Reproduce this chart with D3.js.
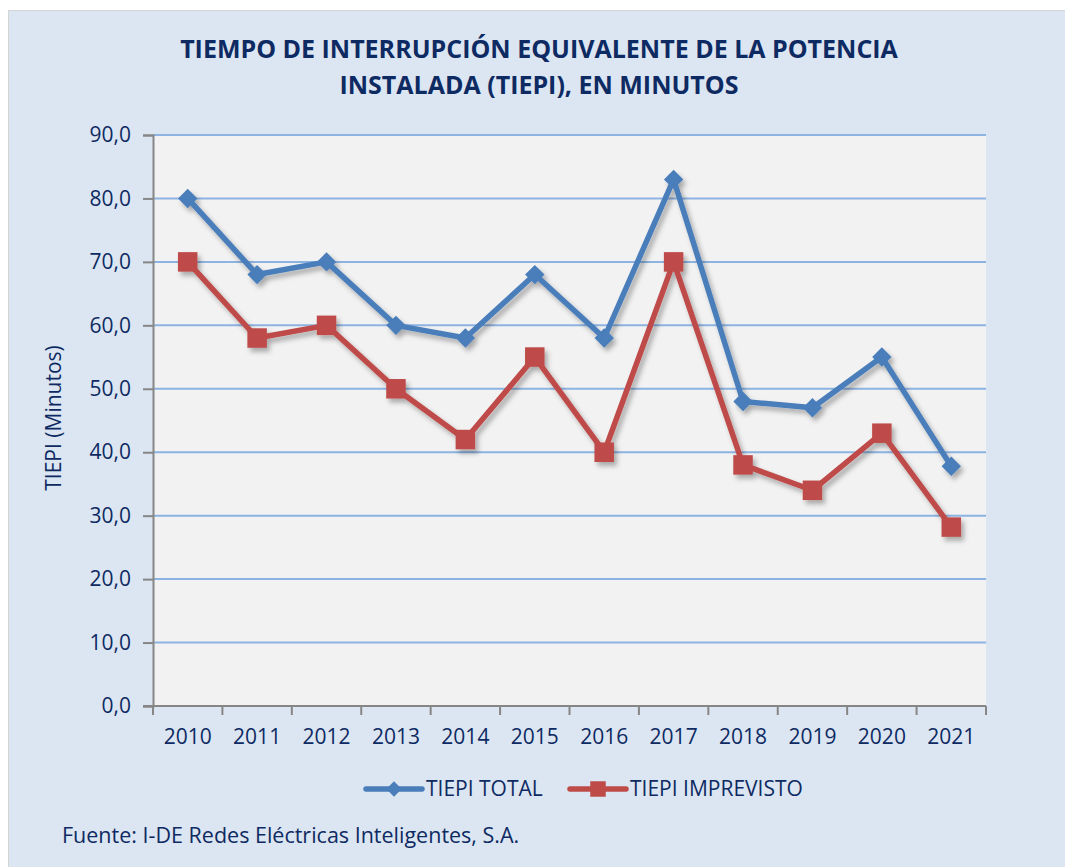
<!DOCTYPE html>
<html>
<head>
<meta charset="utf-8">
<script src="https://cdn.jsdelivr.net/npm/d3@7"></script>
<style>
    body { margin: 0; background: #fff; }
    text { font-family: "Open Sans", sans-serif; fill: #0e2a62; }
</style>
</head>
<body>
<script>
const years = ['2010', '2011', '2012', '2013', '2014', '2015', '2016', '2017', '2018', '2019', '2020', '2021'];
const tiepiTotal = [80, 68, 70, 60, 58, 68, 58, 83, 48, 47, 55, 37.8];
const tiepiImprevisto = [70, 58, 60, 50, 42, 55, 40, 70, 38, 34, 43, 28.2];
const yTicks = [0, 10, 20, 30, 40, 50, 60, 70, 80, 90];
const seriesNames = ['TIEPI TOTAL', 'TIEPI IMPREVISTO'];

const width = 1065;
const height = 867;
const plot = { left: 153, right: 986, top: 135, bottom: 706 };

const svg = d3.select('body')
    .append('svg')
    .attr('width', width)
    .attr('height', height);

const defs = svg.append('defs');
const shadow = defs.append('filter')
    .attr('id', 'shadow')
    .attr('x', '-10%').attr('y', '-10%')
    .attr('width', '130%').attr('height', '130%');
shadow.append('feDropShadow')
    .attr('dx', 3).attr('dy', 4)
    .attr('stdDeviation', 2.5)
    .attr('flood-color', '#000')
    .attr('flood-opacity', 0.3);

// chart background (right and bottom edges run off the picture)
svg.append('rect')
    .attr('x', 8.5).attr('y', 10.5)
    .attr('width', 1100).attr('height', 900)
    .attr('fill', '#dce6f2')
    .attr('stroke', '#d4d4d4');

svg.append('rect')
    .attr('x', plot.left).attr('y', plot.top)
    .attr('width', plot.right - plot.left)
    .attr('height', plot.bottom - plot.top)
    .attr('fill', '#f2f2f2');

const x = d3.scaleBand()
    .domain(years)
    .range([plot.left, plot.right]);
const y = d3.scaleLinear()
    .domain([0, 90])
    .range([plot.bottom, plot.top]);

// gridlines
svg.append('g')
    .selectAll('line')
    .data(yTicks.filter(d => d > 0))
    .enter()
    .append('line')
    .attr('x1', plot.left).attr('x2', plot.right)
    .attr('y1', d => y(d)).attr('y2', d => y(d))
    .attr('stroke', '#8db3e2')
    .attr('stroke-width', 2);

// axes
const yAxis = d3.axisLeft(y)
    .tickValues(yTicks)
    .tickSize(10)
    .tickFormat(d => d3.format('.1f')(d).replace('.', ','));
const gy = svg.append('g')
    .attr('transform', `translate(${plot.left}, 0)`)
    .call(yAxis);
gy.select('.domain').attr('stroke', '#868686').attr('stroke-width', 2);
gy.selectAll('.tick line').attr('stroke', '#868686').attr('stroke-width', 2);
gy.selectAll('.tick text')
    .attr('x', -22)
    .style('font-size', '21px')
    .attr('fill', '#0e2a62');

const xAxis = d3.axisBottom(x).tickSize(0);
const gx = svg.append('g')
    .attr('transform', `translate(0, ${plot.bottom})`)
    .call(xAxis);
gx.select('.domain').remove();
gx.append('line')
    .attr('x1', plot.left - 10).attr('x2', plot.right)
    .attr('y1', 0).attr('y2', 0)
    .attr('stroke', '#868686').attr('stroke-width', 2);
gx.selectAll('.sep')
    .data(years.concat(['end']))
    .enter()
    .append('line')
    .attr('x1', (d, i) => plot.left + i * x.bandwidth())
    .attr('x2', (d, i) => plot.left + i * x.bandwidth())
    .attr('y1', 0).attr('y2', 9)
    .attr('stroke', '#868686').attr('stroke-width', 2);
gx.selectAll('.tick text')
    .attr('y', 38)
    .attr('dy', 0)
    .style('font-size', '21px')
    .attr('fill', '#0e2a62');

// series
const series = [
    { name: seriesNames[0], values: tiepiTotal, color: '#4a7ebb', marker: d3.symbolDiamond2, size: 240, legendSize: 150 },
    { name: seriesNames[1], values: tiepiImprevisto, color: '#be4b48', marker: d3.symbolSquare, size: 380, legendSize: 240 },
];

const line = d3.line()
    .x((d, i) => x(years[i]) + x.bandwidth() / 2)
    .y(d => y(d));

series.forEach(s => {
    const g = svg.append('g').attr('filter', 'url(#shadow)');
    g.append('path')
        .datum(s.values)
        .attr('d', line)
        .attr('fill', 'none')
        .attr('stroke', s.color)
        .attr('stroke-width', 5.5)
        .attr('stroke-linejoin', 'round');
    g.selectAll('.pt')
        .data(s.values)
        .enter()
        .append('path')
        .attr('transform', (d, i) => `translate(${x(years[i]) + x.bandwidth() / 2}, ${y(d)})`)
        .attr('d', d3.symbol().type(s.marker).size(s.size))
        .attr('fill', s.color);
});

// title
const title = svg.append('text')
    .attr('text-anchor', 'middle')
    .style('font-size', '25px')
    .style('font-weight', 'bold')
    .attr('fill', '#0b2560');
title.append('tspan').attr('x', 539).attr('y', 57.5).text('TIEMPO DE INTERRUPCIÓN EQUIVALENTE DE LA POTENCIA');
title.append('tspan').attr('x', 539).attr('y', 93.5).text('INSTALADA (TIEPI), EN MINUTOS');

// y axis title
svg.append('text')
    .attr('transform', `translate(61, 418) rotate(-90)`)
    .attr('text-anchor', 'middle')
    .style('font-size', '21px')
    .text('TIEPI (Minutos)');

// legend
const legendPos = [{ x: 366, w: 56 }, { x: 570, w: 56 }];
series.forEach((s, i) => {
    const lg = svg.append('g').attr('transform', `translate(${legendPos[i].x}, 789)`);
    lg.append('line')
        .attr('x1', 0).attr('x2', legendPos[i].w)
        .attr('stroke', s.color).attr('stroke-width', 5.5)
        .attr('stroke-linecap', 'round');
    lg.append('path')
        .attr('transform', `translate(${legendPos[i].w / 2}, 0)`)
        .attr('d', d3.symbol().type(s.marker).size(s.legendSize))
        .attr('fill', s.color);
    lg.append('text')
        .attr('x', legendPos[i].w + 4)
        .attr('y', 7)
        .style('font-size', '21px')
        .text(s.name);
});

// source
svg.append('text')
    .attr('x', 62).attr('y', 843)
    .style('font-size', '21.5px')
    .text('Fuente: I-DE Redes Eléctricas Inteligentes, S.A.');
</script>
</body>
</html>
